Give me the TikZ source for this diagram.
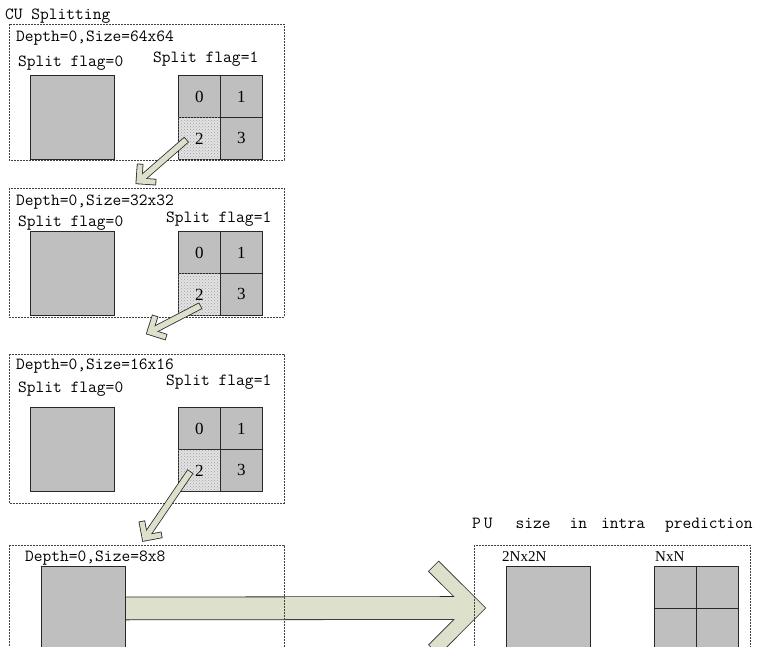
\documentclass[tikz,border=0pt]{standalone}
\usepackage{fontspec}
\setmainfont{Liberation Serif}
\usetikzlibrary{calc,patterns}
\definecolor{cellGray}{RGB}{191,191,191}
\definecolor{arrowFill}{RGB}{221,225,204}
\definecolor{lineDark}{RGB}{40,40,40}

% hollow fat arrow: from, tip, shaft width, arm width, arm length
\newcommand{\fatarrow}[5]{%
  \draw[lineDark, line width=#3+1.6pt, shorten <=-0.8pt] (#1) -- ($(#2)!#4/2!(#1)$);
  \draw[lineDark, line width=#4+1.6pt, line cap=rect, line join=miter] ($(#2)!#5!45:(#1)$) -- (#2) -- ($(#2)!#5!-45:(#1)$);
  \draw[arrowFill, line width=#3] (#1) -- ($(#2)!#4/2!(#1)$);
  \draw[arrowFill, line width=#4, line cap=rect, line join=miter] ($(#2)!#5!45:(#1)$) -- (#2) -- ($(#2)!#5!-45:(#1)$);
}

\begin{document}
\begin{tikzpicture}[x=1pt,y=-1pt,
    panel/.style={draw=black!75, line width=0.7pt, dash pattern=on 2pt off 1pt},
    blk/.style={draw=lineDark, line width=0.9pt, fill=cellGray, minimum size=84pt, inner sep=0pt, anchor=north west},
    cell/.style={blk, minimum size=42pt, font=\fontsize{17}{17}\selectfont},
    hatchcell/.style={cell, fill=gray!22, postaction={pattern=crosshatch dots, pattern color=gray!75}},
    lbl/.style={font=\ttfamily\fontsize{17}{17}\selectfont, inner sep=0pt, anchor=base west}]
  \path[use as bounding box] (0,0) rectangle (763,647);
  \clip (0,0) rectangle (763,647);

  \node[lbl] (cutitle) at (5,20) {CU Splitting};
  % splitting levels
  \foreach \k/\top/\bot/\sz/\dy/\zy/\oy/\fx/\sy in {1/24/160/64x64/42/67/63/153/75,
      2/188/317/32x32/206/227/223/166/231, 3/354/503/16x16/369/392/385/166/407}{
    \draw[panel] (9,\top) rectangle (284,\bot);
    \node[lbl] (depth\k) at (16,\dy) {Depth=0,Size=\sz};
    \node[lbl] (flagA\k) at (18,\zy) {Split flag=0};
    \node[lbl] (flagB\k) at (\fx,\oy) {Split flag=1};
    \node[blk] (whole\k) at (30,\sy) {};
    \node[cell] (c\k-0) at (178,\sy) {0};
    \node[cell] (c\k-1) at (220,\sy) {1};
    \node[hatchcell] (c\k-2) at (178,\sy+42) {2};
    \node[cell] (c\k-3) at (220,\sy+42) {3};
  }

  % 8x8 level
  \coordinate (bigtip) at (475.5,608);
  \node[blk] (whole4) at (41,566) {};
  \fatarrow{whole4.east}{bigtip}{22pt}{13.5pt}{52pt}
  \draw[panel] (9,545) rectangle (284,700);
  \node[lbl] (depth4) at (25,561) {Depth=0,Size=8x8};
  \node[blk] at (whole4.north west) {};

  % PU sizes
  \node[lbl] (putitle) at (472,528) {P\hspace{3pt}U\hspace{23pt}size\hspace{19pt}in\hspace{14pt}intra\hspace{20pt}prediction};
  \draw[panel] (474,545) rectangle (750,700);
  \node[lbl, font=\fontsize{15}{15}\selectfont] (lab2N) at (502,561) {2Nx2N};
  \node[lbl, font=\fontsize{15}{15}\selectfont] (labN) at (655,561) {NxN};
  \node[blk] (pu2N) at (506,566) {};
  \node[cell] (n1) at (654,566) {};
  \node[cell] (n2) at (696,566) {};
  \node[cell] (n3) at (654,608) {};
  \node[cell] (n4) at (696,608) {};

  % descending arrows
  \coordinate (s1) at (186,140);
  \coordinate (t1) at (139,181);
  \coordinate (s2) at (200,306);
  \coordinate (t2) at (150,332);
  \coordinate (s3) at (190,472);
  \coordinate (t3) at (145,538);
  \fatarrow{s1}{t1}{5.5pt}{5pt}{14pt}
  \fatarrow{s2}{t2}{5.5pt}{5pt}{14pt}
  \fatarrow{s3}{t3}{5.5pt}{5pt}{14pt}
\end{tikzpicture}
\end{document}
